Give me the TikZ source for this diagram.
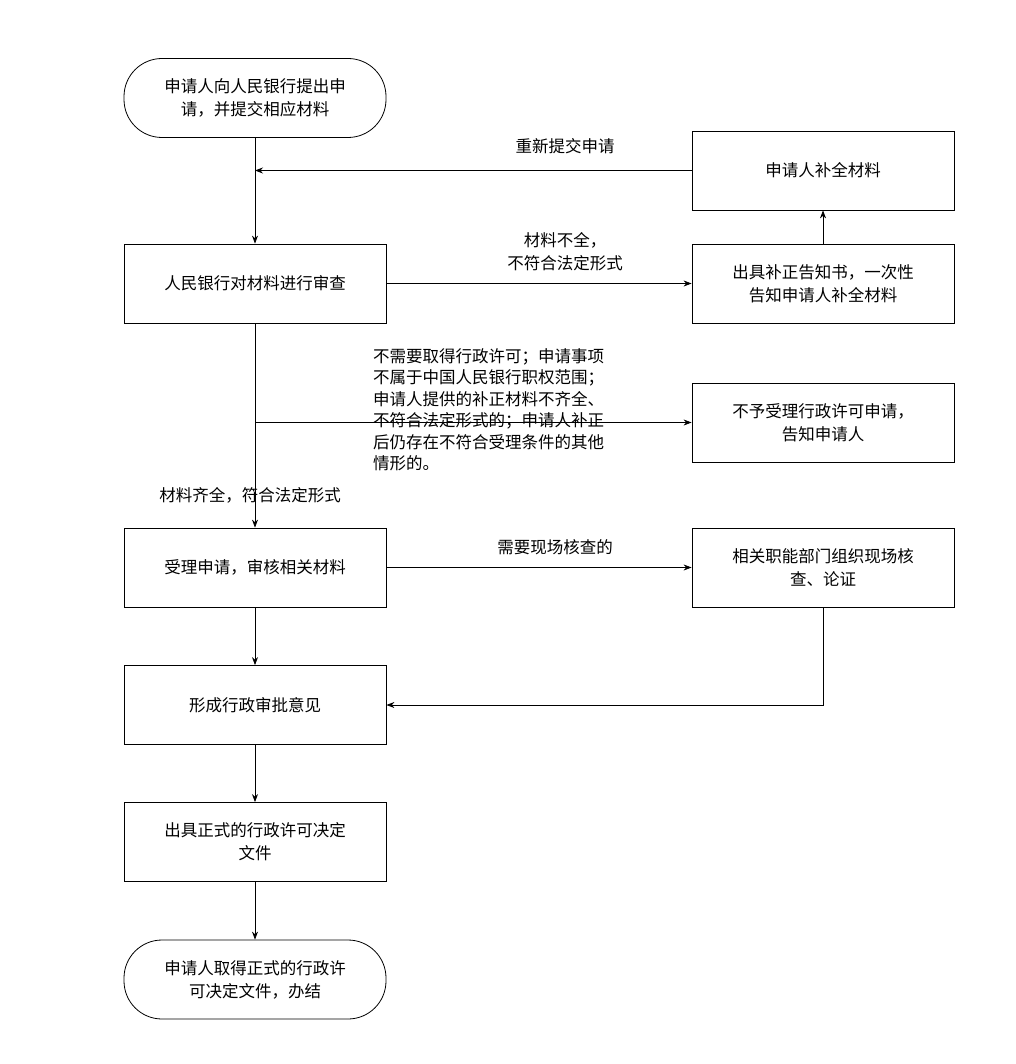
\documentclass[tikz,border=0pt]{standalone}
\usepackage{fontspec}
\setmainfont{Noto Sans CJK SC}
\usetikzlibrary{arrows.meta}
\begin{document}
\begin{tikzpicture}[x=1pt,y=-1pt,
  font=\fontsize{16.5}{23}\selectfont,
  box/.style={draw,line width=0.8pt,minimum width=262pt,minimum height=79pt,align=center,inner sep=4pt,text width=250pt},
  term/.style={box,rounded corners=38pt},
  arr/.style={-{Stealth[length=8pt,width=6pt]},line width=0.8pt},
  lbl/.style={align=center}]
\useasboundingbox[fill=white] (0,0) rectangle (1015,1064);
\node[term] (s) at (255,98) {申请人向人民银行提出申\\请，并提交相应材料};
\node[box] (b1) at (255,283.5) {人民银行对材料进行审查};
\node[box] (r1) at (823,170.5) {申请人补全材料};
\node[box] (r2) at (823,283.5) {出具补正告知书，一次性\\告知申请人补全材料};
\node[box] (r3) at (823,422.5) {不予受理行政许可申请，\\告知申请人};
\node[box] (b2) at (255,567.5) {受理申请，审核相关材料};
\node[box] (r4) at (823,567.5) {相关职能部门组织现场核\\查、论证};
\node[box] (b3) at (255,705) {形成行政审批意见};
\node[box] (b4) at (255,842) {出具正式的行政许可决定\\文件};
\node[term] (e) at (255,979.5) {申请人取得正式的行政许\\可决定文件，办结};
\coordinate (j1) at (255,170.5);
\coordinate (j2) at (255,422.5);
\coordinate (k) at (823,705);
\draw[arr] (s) -- (b1);
\draw[arr] (r1) -- (j1);
\draw[arr] (b1) -- (r2);
\draw[arr] (r2) -- (r1);
\draw[arr] (b1) -- (b2);
\draw[arr] (j2) -- (r3);
\draw[arr] (b2) -- (r4);
\draw[arr] (r4) -- (k) -- (b3);
\draw[arr] (b2) -- (b3);
\draw[arr] (b3) -- (b4);
\draw[arr] (b4) -- (e);
\node[lbl] (l1) at (565,146) {重新提交申请};
\node[lbl] (l2) at (565,252) {材料不全，\\不符合法定形式};
\node[align=left,anchor=north west,inner sep=0pt,font=\fontsize{16.5}{21.5}\selectfont] (l3) at (373,348) {不需要取得行政许可；申请事项\\不属于中国人民银行职权范围；\\申请人提供的补正材料不齐全、\\不符合法定形式的；申请人补正\\后仍存在不符合受理条件的其他\\情形的。};
\node[lbl] (l4) at (250,495) {材料齐全，符合法定形式};
\node[lbl] (l5) at (555,547) {需要现场核查的};
\end{tikzpicture}
\end{document}
